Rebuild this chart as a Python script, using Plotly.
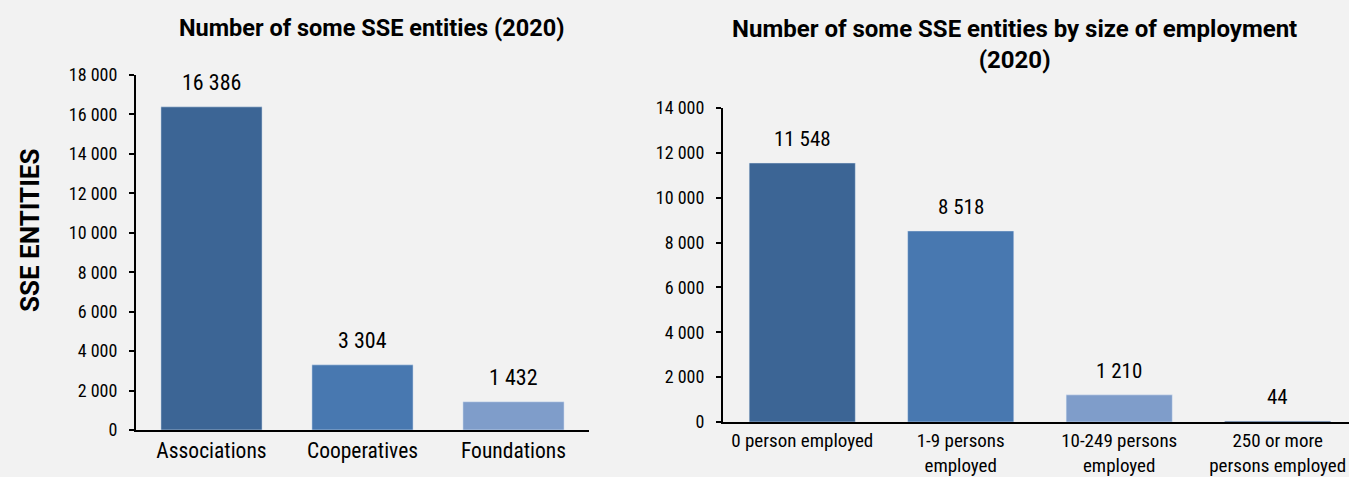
import plotly.graph_objects as go

left_categories = ["Associations", "Cooperatives", "Foundations"]
left_values = [16386, 3304, 1432]
left_colors = ["#3C6595", "#4878B0", "#7F9DCA"]

right_categories = ["0 person employed", "1-9 persons<br>employed",
                    "10-249 persons<br>employed", "250 or more<br>persons employed"]
right_values = [11548, 8518, 1210, 44]
right_colors = ["#3C6595", "#4878B0", "#7F9DCA", "#2F4F7A"]

left_title = "Number of some SSE entities (2020)"
right_title = "Number of some SSE entities by size of employment<br>(2020)"
y_title = "SSE ENTITIES"

FONT = "Liberation Sans Narrow, Arial Narrow, Roboto Condensed, Roboto, Arial"
TITLE_FONT = "Roboto, Liberation Sans, Arial"

W, H = 1349, 477

def fmt(v):
    return f"{v:,}".replace(",", " ")

fig = go.Figure()
fig.add_trace(go.Bar(x=left_categories, y=left_values, marker_color=left_colors,
                     xaxis="x", yaxis="y", showlegend=False, hoverinfo="x+y"))
fig.add_trace(go.Bar(x=right_categories, y=right_values, marker_color=right_colors,
                     xaxis="x2", yaxis="y2", showlegend=False, hoverinfo="x+y"))

annotations = []
for c, v in zip(left_categories, left_values):
    annotations.append(dict(x=c, y=v, xref="x", yref="y", text=fmt(v), showarrow=False,
                            yanchor="bottom", yshift=10, font=dict(size=22, color="#000")))
for c, v in zip(right_categories, right_values):
    annotations.append(dict(x=c, y=v, xref="x2", yref="y2", text=fmt(v), showarrow=False,
                            yanchor="bottom", yshift=10, font=dict(size=21, color="#000")))
annotations.append(dict(x=371 / W, y=1 - 28 / H, xref="paper", yref="paper",
                        xanchor="center", yanchor="middle",
                        text="<b>" + left_title + "</b>", showarrow=False,
                        font=dict(family=TITLE_FONT, size=23.5, color="#000")))
annotations.append(dict(x=1014 / W, y=1 - 45 / H, xref="paper", yref="paper",
                        xanchor="center", yanchor="middle",
                        text="<b>" + right_title + "</b>", showarrow=False,
                        font=dict(family=TITLE_FONT, size=24, color="#000")))
annotations.append(dict(x=30 / W, y=1 - 231 / H, xref="paper", yref="paper",
                        xanchor="center", yanchor="middle", textangle=-90,
                        text="<b>" + y_title + "</b>", showarrow=False,
                        font=dict(family=TITLE_FONT, size=26, color="#000")))

axis_common = dict(showgrid=False, zeroline=False, showline=True, linecolor="#000",
                   linewidth=2, automargin=False)

fig.update_layout(
    width=W, height=H, autosize=False,
    margin=dict(l=0, r=0, t=0, b=0, pad=0),
    paper_bgcolor="#F2F2F2", plot_bgcolor="#F2F2F2",
    font=dict(family=FONT, color="#000"),
    separators=". ",
    bargap=0.33,
    annotations=annotations,
    xaxis=dict(domain=[136 / W, 589 / W], anchor="y", ticks="",
               tickfont=dict(size=21.5), **axis_common),
    yaxis=dict(domain=[47 / H, 402 / H], anchor="x", range=[0, 18000], dtick=2000,
               tickformat=",d", ticks="outside", ticklen=5, tickwidth=1.5, tickcolor="#000",
               tickfont=dict(size=18), ticklabelstandoff=8, **axis_common),
    xaxis2=dict(domain=[723 / W, 1.0], anchor="y2", ticks="", range=[-0.5, 3.45],
                tickfont=dict(size=19), **axis_common),
    yaxis2=dict(domain=[55 / H, 369 / H], anchor="x2", range=[0, 14000], dtick=2000,
                tickformat=",d", ticks="outside", ticklen=5, tickwidth=1.5, tickcolor="#000",
                tickfont=dict(size=18), ticklabelstandoff=8, **axis_common),
)

fig.write_html("out.html", config={"displayModeBar": False},
               post_script="document.body.style.margin='0';document.body.style.overflow='hidden';")
